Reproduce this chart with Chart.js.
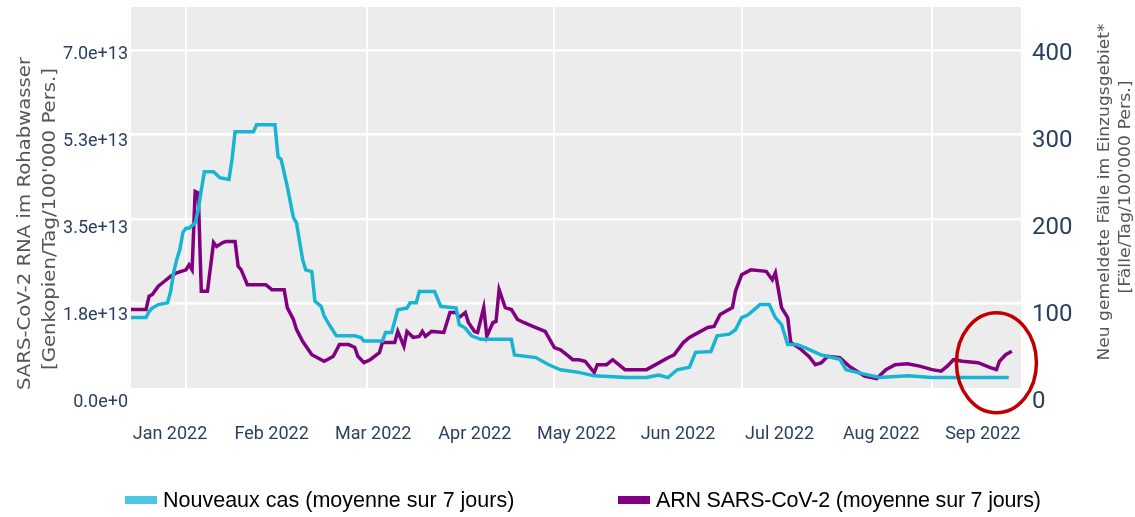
<!DOCTYPE html>
<html><head><meta charset="utf-8">
<script src="https://cdn.jsdelivr.net/npm/chart.js@4.4.1/dist/chart.umd.min.js"></script>
<style>
html,body{margin:0;padding:0;background:#fff;}
#wrap{position:relative;width:1135px;height:517px;}
#legend{position:absolute;left:0;top:487px;width:1135px;height:26px;font-family:'Liberation Sans',Arial,sans-serif;font-size:21.5px;color:#000;}
.item{position:absolute;top:0;display:flex;align-items:center;height:26px;white-space:nowrap;}
.sw{display:inline-block;width:32px;height:8px;margin-right:6px;}
</style></head><body>
<div id="wrap"><canvas id="c" width="1135" height="517"></canvas><div id="legend"></div></div>
<script>
// ---- data ----
const casesDates = ['2021-12-14','2021-12-19','2021-12-20','2021-12-21','2021-12-23','2021-12-26','2021-12-27','2021-12-28','2021-12-29','2021-12-30','2021-12-31',
'2022-01-01','2022-01-02','2022-01-04','2022-01-05','2022-01-06','2022-01-07','2022-01-10','2022-01-12','2022-01-15','2022-01-16','2022-01-17','2022-01-23','2022-01-24','2022-01-30','2022-01-31',
'2022-02-01','2022-02-03','2022-02-05','2022-02-06','2022-02-08','2022-02-09','2022-02-11','2022-02-12','2022-02-14','2022-02-15','2022-02-17','2022-02-19','2022-02-25','2022-02-27','2022-02-28',
'2022-03-06','2022-03-07','2022-03-09','2022-03-11','2022-03-14','2022-03-15','2022-03-17','2022-03-18','2022-03-23','2022-03-25','2022-03-30','2022-03-31',
'2022-04-02','2022-04-04','2022-04-07','2022-04-17','2022-04-18','2022-04-25','2022-04-29',
'2022-05-03','2022-05-09','2022-05-14','2022-05-25','2022-05-31',
'2022-06-04','2022-06-07','2022-06-10','2022-06-14','2022-06-16','2022-06-21','2022-06-23','2022-06-27','2022-06-29',
'2022-07-01','2022-07-03','2022-07-05','2022-07-07','2022-07-10','2022-07-12','2022-07-14','2022-07-16','2022-07-19','2022-07-22','2022-07-27',
'2022-08-02','2022-08-04','2022-08-10','2022-08-15','2022-08-24','2022-09-01','2022-09-26'];
const casesValues = [81,81,88,92,96,98,111,133,148,159,179,
184,184,190,205,228,249,249,242,240,263,295,295,303,303,266,
263,232,196,190,148,136,134,100,94,83,71,60,60,58,54,
54,64,64,90,92,98,98,111,111,94,92,73,
69,60,56,56,38,35,27,
21,18,14,12,12,
15,12,21,24,41,42,60,62,67,
81,84,90,96,96,81,73,50,50,46,38,
33,21,16,12,14,12,12];

const rnaDates = ['2021-12-14','2021-12-19','2021-12-20','2021-12-21','2021-12-23','2021-12-25','2021-12-27','2021-12-29',
'2022-01-01','2022-01-02','2022-01-03','2022-01-04','2022-01-05','2022-01-06','2022-01-08','2022-01-10','2022-01-11','2022-01-13','2022-01-14','2022-01-17','2022-01-18','2022-01-19','2022-01-21','2022-01-27','2022-01-29',
'2022-02-02','2022-02-03','2022-02-05','2022-02-06','2022-02-08','2022-02-11','2022-02-15','2022-02-16','2022-02-18','2022-02-20','2022-02-23','2022-02-25','2022-02-26','2022-02-28',
'2022-03-02','2022-03-05','2022-03-06','2022-03-10','2022-03-11','2022-03-13','2022-03-14','2022-03-16','2022-03-18','2022-03-19','2022-03-20','2022-03-22','2022-03-26','2022-03-28','2022-03-30','2022-03-31',
'2022-04-02','2022-04-03','2022-04-05','2022-04-06','2022-04-08','2022-04-09','2022-04-11','2022-04-12','2022-04-13','2022-04-15','2022-04-17','2022-04-19','2022-04-21','2022-04-24','2022-04-28',
'2022-05-01','2022-05-03','2022-05-05','2022-05-07','2022-05-09','2022-05-11','2022-05-14','2022-05-15','2022-05-18','2022-05-20','2022-05-22','2022-05-24','2022-05-31',
'2022-06-03','2022-06-07','2022-06-09','2022-06-12','2022-06-14','2022-06-17','2022-06-20','2022-06-22','2022-06-24','2022-06-26','2022-06-28','2022-06-29',
'2022-07-01','2022-07-04','2022-07-09','2022-07-11','2022-07-12','2022-07-14','2022-07-16','2022-07-17','2022-07-20','2022-07-23','2022-07-25','2022-07-27','2022-07-29',
'2022-08-02','2022-08-05','2022-08-10','2022-08-14','2022-08-17','2022-08-20','2022-08-24','2022-08-28',
'2022-09-01','2022-09-04','2022-09-06','2022-09-08','2022-09-11','2022-09-16','2022-09-20','2022-09-22','2022-09-23','2022-09-25','2022-09-27'];
const rnaValues = [1.58e13,1.58e13,1.85e13,1.88e13,2.05e13,2.15e13,2.25e13,2.32e13,
2.38e13,2.48e13,2.38e13,3.96e13,3.93e13,1.95e13,1.95e13,2.93e13,2.85e13,2.93e13,2.95e13,2.95e13,2.45e13,2.38e13,2.08e13,2.08e13,1.98e13,
1.98e13,1.62e13,1.38e13,1.18e13,0.94e13,0.67e13,0.54e13,0.57e13,0.64e13,0.875e13,0.875e13,0.815e13,0.64e13,0.51e13,
0.57e13,0.71e13,0.915e13,0.915e13,1.14e13,0.84e13,1.14e13,1.02e13,1.04e13,1.14e13,1.04e13,1.14e13,1.12e13,1.52e13,1.52e13,1.42e13,
1.52e13,1.32e13,1.14e13,1.12e13,1.62e13,1.04e13,1.32e13,1.34e13,1.98e13,1.62e13,1.58e13,1.38e13,1.32e13,1.24e13,1.14e13,
0.815e13,0.77e13,0.67e13,0.57e13,0.57e13,0.54e13,0.31e13,0.47e13,0.47e13,0.57e13,0.47e13,0.37e13,0.37e13,
0.47e13,0.61e13,0.67e13,0.915e13,1.02e13,1.12e13,1.22e13,1.24e13,1.48e13,1.55e13,1.62e13,1.95e13,
2.28e13,2.38e13,2.35e13,2.18e13,2.32e13,1.62e13,1.42e13,0.915e13,0.795e13,0.63e13,0.47e13,0.51e13,0.64e13,
0.61e13,0.44e13,0.24e13,0.19e13,0.37e13,0.47e13,0.49e13,0.44e13,
0.37e13,0.34e13,0.44e13,0.57e13,0.54e13,0.51e13,0.41e13,0.37e13,0.54e13,0.67e13,0.74e13];

const monthLabels = ['Jan 2022','Feb 2022','Mar 2022','Apr 2022','May 2022','Jun 2022','Jul 2022','Aug 2022','Sep 2022'];
const gridDates = ['2022-01-01','2022-03-01','2022-05-01','2022-07-01','2022-09-01'];
const rnaTicks = [0, 1.75e13, 3.5e13, 5.25e13, 7e13];
const rnaTickLabels = ['0.0e+0','1.8e+13','3.5e+13','5.3e+13','7.0e+13'];
const casesTicks = [0, 100, 200, 300, 400];
const seriesNames = ['Nouveaux cas (moyenne sur 7 jours)', 'ARN SARS-CoV-2 (moyenne sur 7 jours)'];
const leftTitle = ['SARS-CoV-2 RNA im Rohabwasser', "[Genkopien/Tag/100'000 Pers.]"];
const rightTitle = ['Neu gemeldete Fälle im Einzugsgebiet*', "[Fälle/Tag/100'000 Pers.]"];
const highlight = {date: '2022-09-22', value: 29};

// ---- helpers ----
const DAY0 = Date.UTC(2022, 0, 1);
function dayOf(s){ const p = s.split('-').map(Number); return (Date.UTC(p[0], p[1]-1, p[2]) - DAY0) / 86400000; }

const TICK_FONT = "Roboto, 'DejaVu Sans Condensed', sans-serif";
const TICK_COLOR = '#2a3f5f';
const COLORS = ['#1ab4d3', '#800080'];
const SWATCH = ['#4cc6e1', '#800080'];

function noPadV(s){ s.paddingTop = 0; s.paddingBottom = 0; }
function noPadH(s){ s.paddingLeft = 0; s.paddingRight = 0; }

const bgPlugin = {
  id: 'bg',
  beforeDraw(chart){
    const a = chart.chartArea, ctx = chart.ctx;
    ctx.save(); ctx.fillStyle = '#ececec';
    ctx.fillRect(a.left, a.top, a.right - a.left, a.bottom - a.top);
    ctx.restore();
  }
};

function drawRot(ctx, text, cx, cy, font, len, color){
  ctx.save();
  ctx.font = font;
  const w = ctx.measureText(text).width;
  ctx.translate(cx, cy); ctx.rotate(-Math.PI/2); ctx.scale(len / w, 1);
  ctx.textAlign = 'center'; ctx.textBaseline = 'middle'; ctx.fillStyle = color;
  ctx.fillText(text, 0, 0);
  ctx.restore();
}

const titlePlugin = {
  id: 'titles',
  afterDraw(chart){
    const ctx = chart.ctx;
    drawRot(ctx, leftTitle[0], 25, 223.5, "18px 'DejaVu Sans'", 333, '#555');
    drawRot(ctx, leftTitle[1], 50, 219, "18px 'DejaVu Sans'", 302, '#555');
    drawRot(ctx, rightTitle[0], 1105, 192, "15px 'DejaVu Sans'", 337, '#555');
    drawRot(ctx, rightTitle[1], 1126, 187, "15px 'DejaVu Sans'", 213, '#555');
    // red highlight ellipse anchored to the data scales
    const cx = chart.scales.x.getPixelForValue(dayOf(highlight.date));
    const cy = chart.scales.y1.getPixelForValue(highlight.value);
    ctx.save();
    ctx.strokeStyle = '#c00000'; ctx.lineWidth = 3.5;
    ctx.beginPath(); ctx.ellipse(cx, cy, 40, 50, 0, 0, Math.PI*2); ctx.stroke();
    ctx.restore();
  }
};

const ctx = document.getElementById('c').getContext('2d');
const chart = new Chart(ctx, {
  type: 'line',
  data: {
    datasets: [
      { label: seriesNames[0], data: casesDates.map((d,i)=>({x: dayOf(d), y: casesValues[i]})),
        xAxisID: 'x', yAxisID: 'y1', borderColor: COLORS[0], backgroundColor: SWATCH[0],
        borderWidth: 3.5, pointRadius: 0, tension: 0, fill: false },
      { label: seriesNames[1], data: rnaDates.map((d,i)=>({x: dayOf(d), y: rnaValues[i]})),
        xAxisID: 'x', yAxisID: 'y', borderColor: COLORS[1], backgroundColor: SWATCH[1],
        borderWidth: 3.5, pointRadius: 0, tension: 0, fill: false }
    ]
  },
  options: {
    responsive: false, animation: false, devicePixelRatio: 1,
    layout: { padding: { top: 7, bottom: 60, left: 0, right: 0 } },
    plugins: { legend: { display: false }, tooltip: { enabled: false } },
    scales: {
      x: {
        type: 'linear', position: 'bottom',
        min: dayOf('2021-12-14') + 0.1, max: dayOf('2022-09-30'),
        afterBuildTicks: s => { s.ticks = gridDates.map(d => ({value: dayOf(d)})); },
        afterFit: s => { s.height = 0; noPadH(s); },
        ticks: { display: false },
        grid: { color: '#ffffff', lineWidth: 2, drawTicks: false },
        border: { display: false }
      },
      xm: {
        type: 'linear', position: 'bottom',
        min: -0.384, max: 8.376,
        afterBuildTicks: s => { s.ticks = monthLabels.map((m,i) => ({value: i})); },
        afterFit: s => { s.height = 69; noPadH(s); },
        ticks: { callback: v => monthLabels[v], font: { family: TICK_FONT, size: 18 }, color: TICK_COLOR,
                 padding: 36, maxRotation: 0, autoSkip: false },
        grid: { display: false, drawTicks: false },
        border: { display: false }
      },
      yGrid: {
        type: 'linear', position: 'left', min: 0, max: 7.89e13,
        afterBuildTicks: s => { s.ticks = rnaTicks.slice(1).map(v => ({value: v})); },
        afterFit: s => { s.width = 0; noPadV(s); },
        ticks: { display: false },
        grid: { color: '#ffffff', lineWidth: 2.5, drawTicks: false },
        border: { display: false }
      },
      y: {
        type: 'linear', position: 'left', min: 0, max: 7.674e13,
        afterBuildTicks: s => { s.ticks = rnaTicks.map(v => ({value: v})); },
        afterFit: s => { s.width = 131; noPadV(s); },
        ticks: { callback: (v, i) => rnaTickLabels[i], font: { family: TICK_FONT, size: 18 }, color: TICK_COLOR,
                 padding: 3, labelOffset: 14 },
        grid: { display: false, drawTicks: false },
        border: { display: false }
      },
      y1: {
        type: 'linear', position: 'right', min: 0, max: 438.5,
        afterBuildTicks: s => { s.ticks = casesTicks.map(v => ({value: v})); },
        afterFit: s => { s.width = 114; noPadV(s); },
        ticks: { callback: v => String(v), font: { family: TICK_FONT, size: 24 }, color: TICK_COLOR,
                 padding: 11, labelOffset: 14 },
        grid: { display: false, drawTicks: false },
        border: { display: false }
      }
    }
  },
  plugins: [bgPlugin, titlePlugin]
});

// HTML legend built from the chart's datasets
const legendLeft = [125, 618];
const legendSpacing = ['0px', '-0.2px'];
const leg = document.getElementById('legend');
chart.data.datasets.forEach((ds, i) => {
  const it = document.createElement('div'); it.className = 'item'; it.style.left = legendLeft[i] + 'px';
  it.style.letterSpacing = legendSpacing[i];
  const sw = document.createElement('span'); sw.className = 'sw'; sw.style.background = ds.backgroundColor;
  const tx = document.createElement('span'); tx.textContent = ds.label;
  it.appendChild(sw); it.appendChild(tx); leg.appendChild(it);
});
</script>
</body></html>
